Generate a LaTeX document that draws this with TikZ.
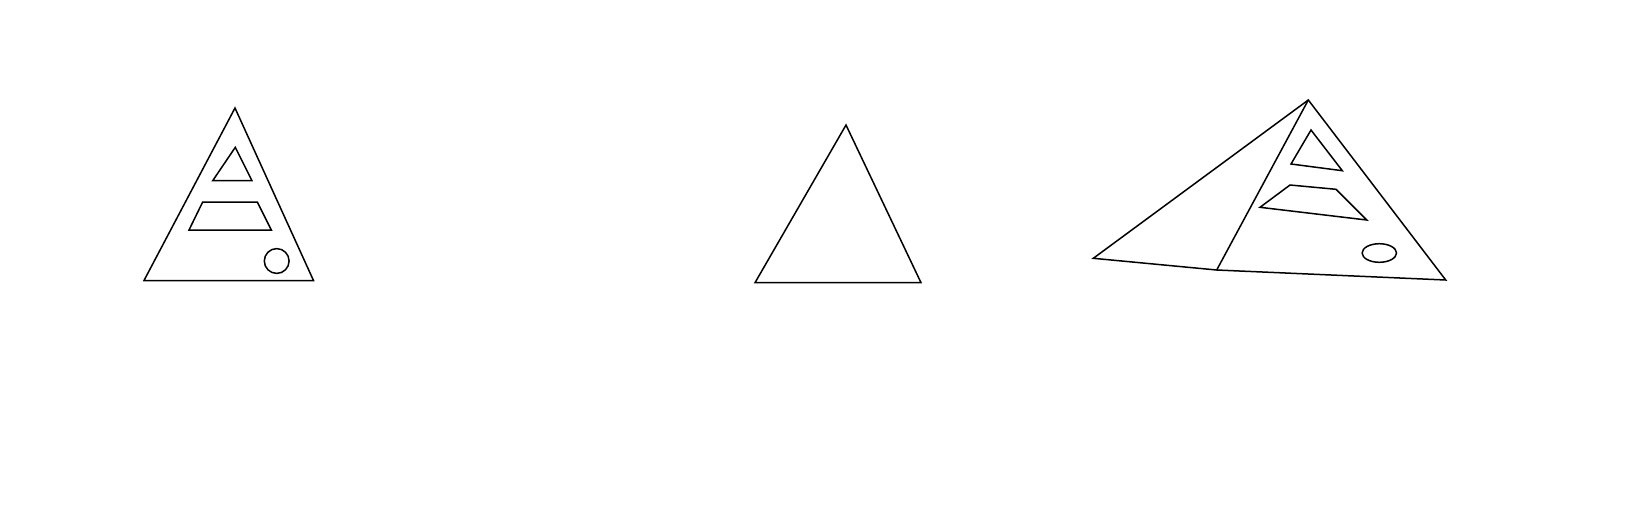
\documentclass[tikz,border=0pt]{standalone}
\usepackage{tikz}
\usetikzlibrary{calc}

\begin{document}
\begin{tikzpicture}[x=1pt,y=-1pt]
  \tikzset{
    edge/.style={draw=black, line width=1.5pt, line join=miter},
    hole/.style={draw=black, line width=1.5pt}
  }
  \useasboundingbox (0,0) rectangle (1640,520);

  % left: flat plate with cut-outs
  \coordinate (la) at (235,108);
  \coordinate (ll) at (144,280.5);
  \coordinate (lr) at (313.5,280.5);
  \draw[edge] (la)--(ll)--(lr)--cycle;
  \draw[hole] (235.3,147.3)--(212.7,180.7)--(252,180.7)--cycle;
  \draw[hole] (202.7,202)--(257.3,202)--(271.3,230)--(189,230)--cycle;
  \draw[hole] (276.7,261) circle (12.4);

  % middle: plain triangle
  \coordinate (ma) at (846,125);
  \coordinate (ml) at (755,282.7);
  \coordinate (mr) at (921,282.7);
  \draw[edge] (ma)--(ml)--(mr)--cycle;

  % right: plate seen in perspective, with its side face
  \coordinate (ra) at (1308.3,100);
  \coordinate (rl) at (1093.3,258.3);
  \coordinate (rm) at (1216.7,270);
  \coordinate (rr) at (1445.7,280);
  \draw[edge] (ra)--(rl)--(rm)--(rr)--cycle;
  \draw[edge] (ra)--(rm);
  \draw[hole] (1311,130)--(1291,164)--(1342.3,170.7)--cycle;
  \draw[hole] (1290,185)--(1336,189.3)--(1366.7,220)--(1260,207.3)--cycle;
  \draw[hole] (1379.3,253) ellipse (17.2 and 9.3);
\end{tikzpicture}
\end{document}
